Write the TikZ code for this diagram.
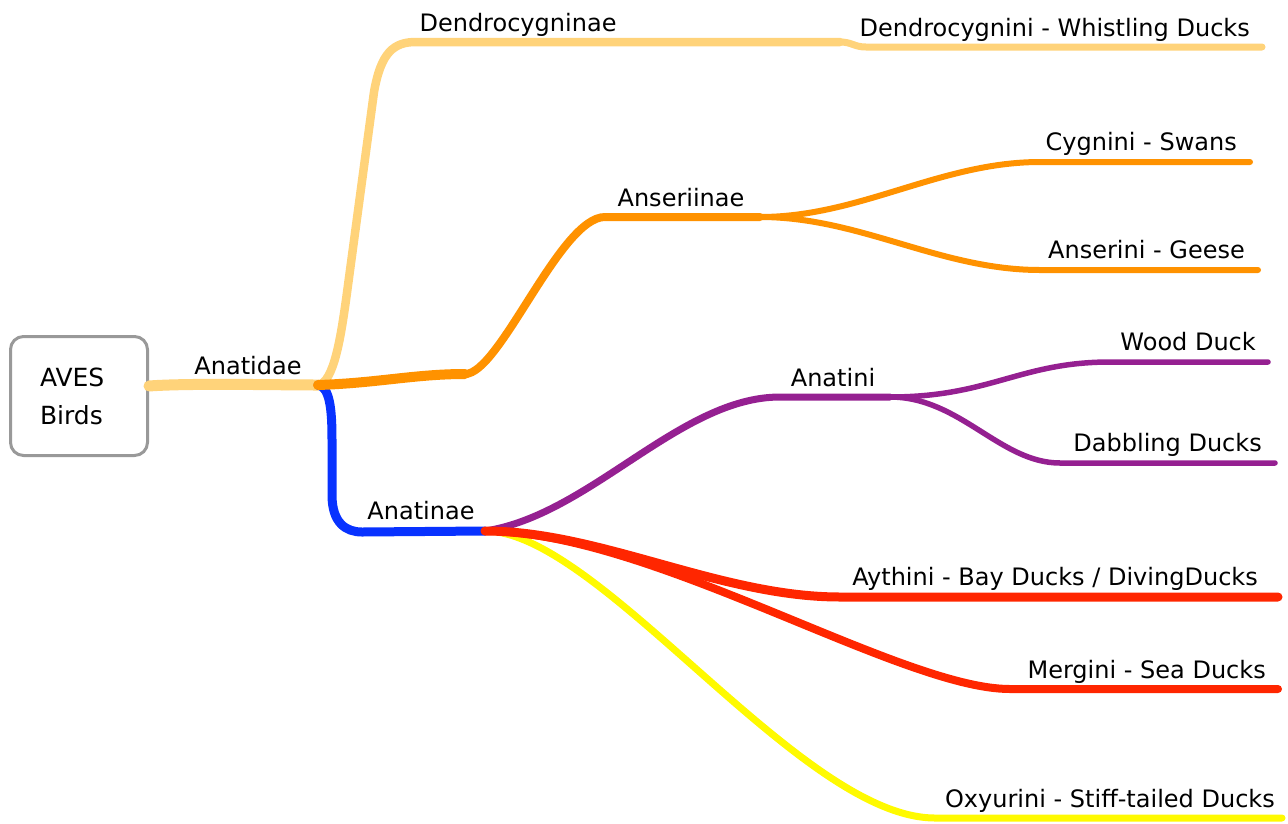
\documentclass[tikz,border=0pt]{standalone}
\usepackage{fontspec}
\setmainfont{DejaVu Sans}
\definecolor{lorange}{RGB}{255,211,122}
\definecolor{dorange}{RGB}{255,146,0}
\definecolor{bblue}{RGB}{8,50,255}
\definecolor{ppurple}{RGB}{149,32,145}
\definecolor{rred}{RGB}{255,38,0}
\definecolor{yyellow}{RGB}{255,250,0}
\definecolor{boxgrey}{RGB}{153,153,153}
\begin{document}
\begin{tikzpicture}[x=1pt,y=-1pt,
  lblfont/.style={font=\fontsize{24}{34}\selectfont},
  lbl/.style={lblfont,anchor=base,inner sep=0pt},
  rlbl/.style={lblfont,anchor=base east,inner sep=0pt},
  branch/.style={line cap=round,line join=round},
  rootbox/.style={font=\fontsize{25}{38}\selectfont,draw=boxgrey,line width=3pt,rounded corners=13pt,
     fill=white,text width=78pt,align=left,inner xsep=29.5pt,inner ysep=0pt,
     minimum height=119pt}]
\useasboundingbox (0,0) rectangle (1288,823);

% root
\node[rootbox] (root) at (79,396) {AVES\\Birds};

% coordinates
\coordinate (r0) at ([yshift=10pt]root.east);
\coordinate (j0) at (318,385);
\coordinate (dA) at (346,300);
\coordinate (dB) at (374,92);
\coordinate (d1) at (416,42);
\coordinate (d2) at (840,42);
\coordinate (d2b) at (866,47);
\coordinate (d3) at (1262,47);
\coordinate (a1) at (465,374);
\coordinate (a2) at (605,217);
\coordinate (a3) at (760,217);
\coordinate (cyg1) at (1040,162);
\coordinate (cyg2) at (1250,162);
\coordinate (ans1) at (1040,270);
\coordinate (ans2) at (1258,270);
\coordinate (bA) at (332,440);
\coordinate (bB) at (332,495);
\coordinate (b1) at (362,532);
\coordinate (b2) at (485,531);
\coordinate (p1) at (780,397);
\coordinate (p2) at (890,397);
\coordinate (wd1) at (1110,362);
\coordinate (wd2) at (1268,362);
\coordinate (db1) at (1060,463);
\coordinate (db2) at (1275,463);
\coordinate (ay1) at (840,597);
\coordinate (ay2) at (1278,597);
\coordinate (m1) at (1010,689);
\coordinate (m2) at (1278,689);
\coordinate (o1) at (935,818);
\coordinate (o2) at (1282,818);

% Anatidae
\draw[branch,lorange,line width=11pt] (r0) .. controls +(40,-3) and +(-40,0) .. (j0);
% Dendrocygninae
\draw[branch,lorange,line width=8.5pt] (j0) .. controls +(16,-2) and +(-5,35) .. (dA) -- (dB)
   .. controls +(7,-40) and +(-22,0) .. (d1) -- (d2);
\draw[branch,lorange,line width=7pt] (d2) .. controls +(12,0) and +(-12,0) .. (d2b) -- (d3);
% Anatinae
\draw[branch,bblue,line width=9pt] (j0) .. controls +(12,2) and +(0,-30) .. (bA) -- (bB)
   .. controls +(0,28) and +(-16,0) .. (b1) -- (b2);
% Anseriinae
\draw[branch,dorange,line width=10pt] (j0) .. controls +(60,-2) and +(-50,0) .. (a1);
\draw[branch,dorange,line width=8pt] (a1) .. controls +(35,0) and +(-45,0) .. (a2) -- (a3);
\draw[branch,dorange,line width=6pt] (a3) .. controls +(100,0) and +(-100,0) .. (cyg1) -- (cyg2);
\draw[branch,dorange,line width=6pt] (a3) .. controls +(100,0) and +(-100,0) .. (ans1) -- (ans2);
% Anatini
\draw[branch,ppurple,line width=7pt] (b2) .. controls +(105,-16) and +(-100,0) .. (p1) -- (p2);
\draw[branch,ppurple,line width=5.5pt] (p2) .. controls +(100,0) and +(-90,0) .. (wd1) -- (wd2);
\draw[branch,ppurple,line width=5.5pt] (p2) .. controls +(70,0) and +(-60,0) .. (db1) -- (db2);
% Oxyurini
\draw[branch,yyellow,line width=7pt] (b2) .. controls +(115,0) and +(-135,0) .. (o1) -- (o2);
% Mergini
\draw[branch,rred,line width=8pt] (b2) .. controls +(165,0) and +(-110,0) .. (m1) -- (m2);
% Aythini
\draw[branch,rred,line width=9pt] (b2) .. controls +(115,0) and +(-120,0) .. (ay1) -- (ay2);

% labels
\node[lbl] (lAnatidae) at (248,374) {Anatidae};
\node[lbl] (lDendro) at (518,31) {Dendrocygninae};
\node[rlbl] (lDendroT) at (1250,36) {Dendrocygnini - Whistling Ducks};
\node[lbl] (lAnser) at (681,206) {Anseriinae};
\node[rlbl] (lCyg) at (1237,150) {Cygnini - Swans};
\node[rlbl] (lAns) at (1245,258) {Anserini - Geese};
\node[lbl] (lAnatinae) at (421,519) {Anatinae};
\node[lbl] (lAnatini) at (833,386) {Anatini};
\node[rlbl] (lWood) at (1256,350) {Wood Duck};
\node[rlbl] (lDab) at (1262,451) {Dabbling Ducks};
\node[rlbl] (lAyth) at (1258,585) {Aythini - Bay Ducks / DivingDucks};
\node[rlbl] (lMerg) at (1266,678) {Mergini - Sea Ducks};
\node[rlbl] (lOxy) at (1275,807) {Oxyurini - Stiff-tailed Ducks};
\end{tikzpicture}
\end{document}
